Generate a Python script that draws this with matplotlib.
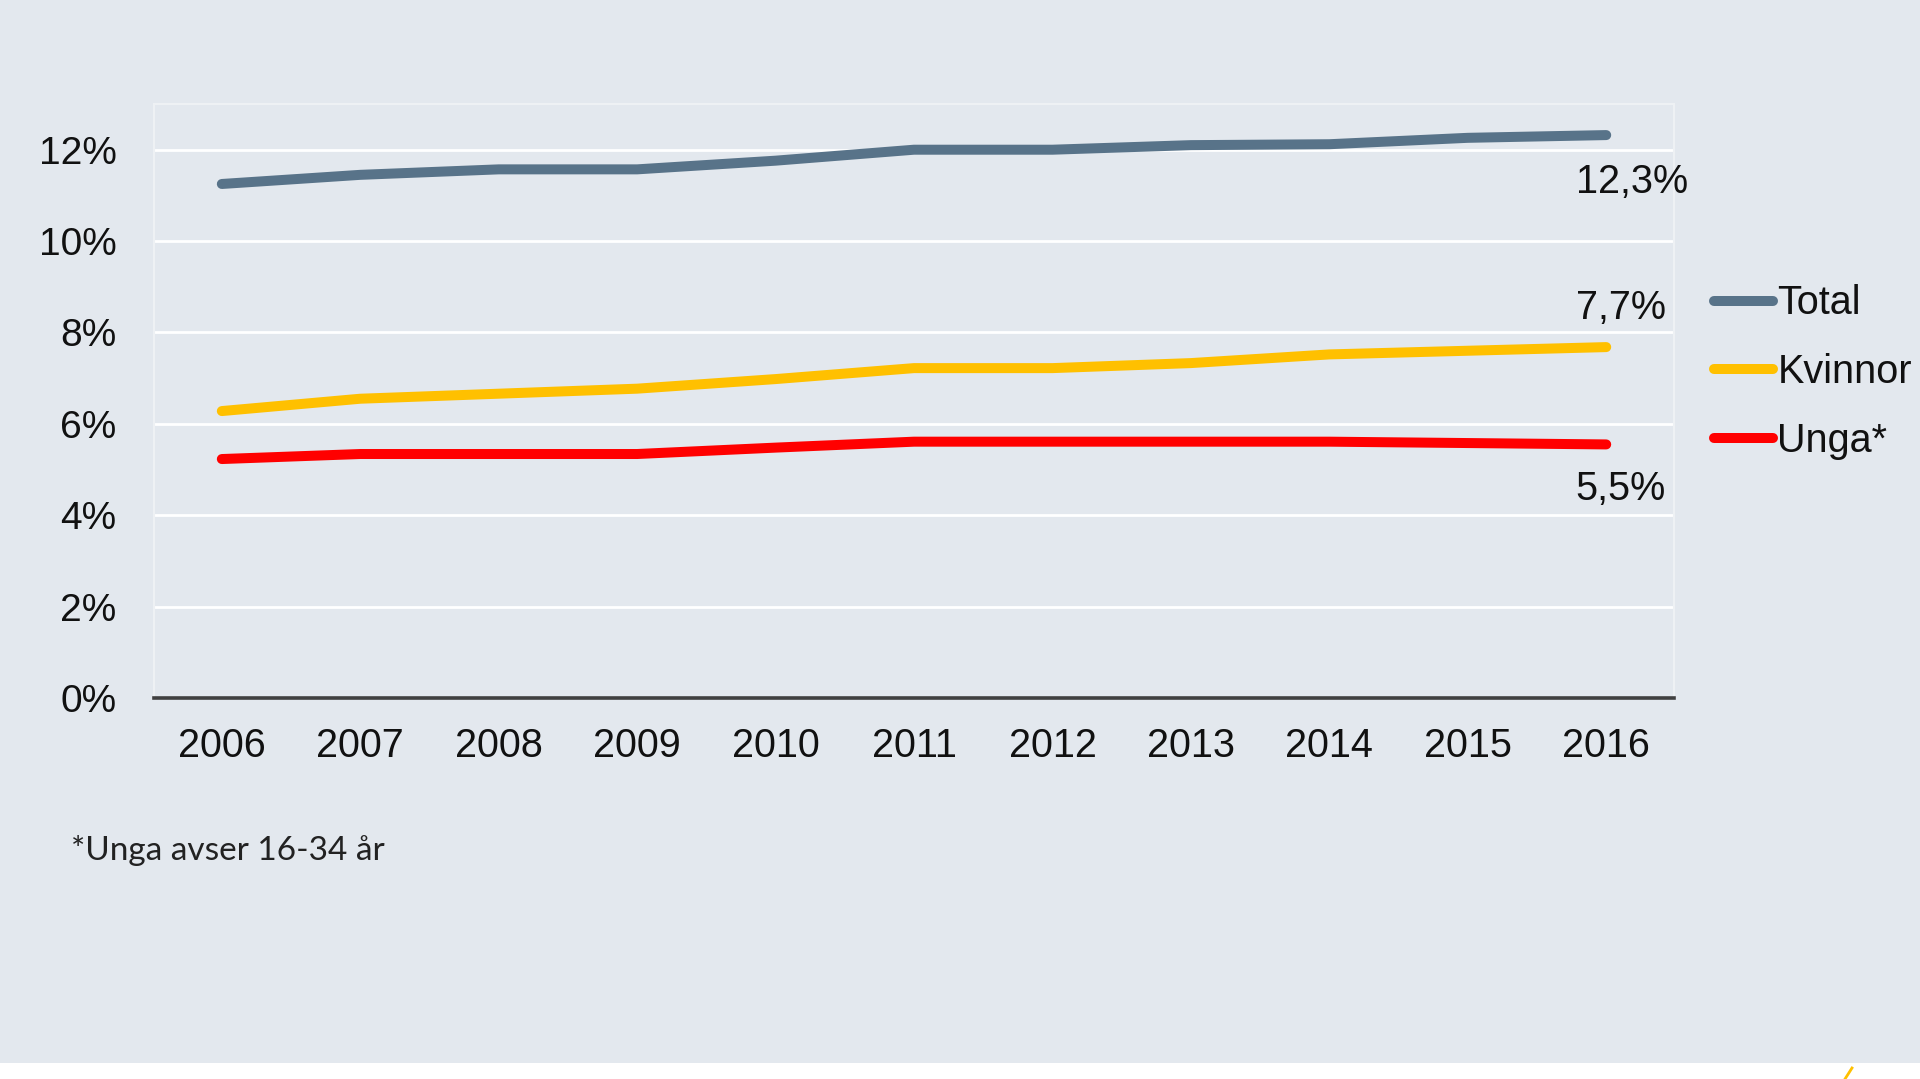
import numpy as np
import matplotlib
matplotlib.use('Agg')
import matplotlib.pyplot as plt
from matplotlib.patches import Rectangle
from matplotlib.lines import Line2D
from matplotlib.ticker import FuncFormatter

plt.rcParams['font.family'] = ['Liberation Sans', 'DejaVu Sans']

#Data
years = [2006, 2007, 2008, 2009, 2010, 2011, 2012, 2013, 2014, 2015, 2016]
total = [11.25, 11.45, 11.57, 11.57, 11.76, 12.0, 12.0, 12.1, 12.12, 12.26, 12.32]
kvinnor = [6.28, 6.55, 6.66, 6.77, 6.98, 7.22, 7.22, 7.33, 7.52, 7.6, 7.68]
unga = [5.23, 5.34, 5.34, 5.34, 5.48, 5.61, 5.61, 5.61, 5.61, 5.58, 5.55]
end_labels = ['12,3%', '7,7%', '5,5%']
end_label_y = [11.30, 8.54, 4.57]
series_names = ['Total', 'Kvinnor', 'Unga*']
colors = ['#587389', '#FFC000', '#FF0000']
footnote = '*Unga avser 16-34 år'

bg = '#E3E8EE'
fig = plt.figure(figsize=(19.2, 10.79), dpi=100, facecolor=bg)
ax = fig.add_axes([0.0802, 0.3531, 0.7917, 0.5505], facecolor=bg)

for vals, name, c in zip([total, kvinnor, unga], series_names, colors):
    ax.plot(years, vals, color=c, lw=7.2, solid_capstyle='round', label=name, zorder=3)

for txt, yv in zip(end_labels, end_label_y):
    ax.text(years[-1] - 0.22, yv, txt, ha='left', va='center', fontsize=28.5, color='#111111', zorder=4)

ax.set_xlim(2005.51, 2016.49)
ax.set_ylim(0, 13)
ax.set_xticks(years)
ax.set_yticks(np.arange(0, 13, 2))
ax.yaxis.set_major_formatter(FuncFormatter(lambda v, p: '%d%%' % v))
ax.tick_params(axis='x', length=0, pad=21, labelsize=28.5, labelcolor='#111111')
ax.tick_params(axis='y', length=0, pad=27, labelsize=28, labelcolor='#111111')
ax.grid(axis='y', color='white', lw=2, zorder=1)
ax.set_axisbelow(True)
for s in ['left', 'top', 'right']:
    ax.spines[s].set_color('#EEF1F4')
    ax.spines[s].set_linewidth(1.5)
ax.spines['bottom'].set_color('#404040')
ax.spines['bottom'].set_linewidth(2.6)
ax.spines['bottom'].set_zorder(5)

leg = ax.legend(loc='center left', bbox_to_anchor=(0.8927, 0.655), bbox_transform=fig.transFigure,
                frameon=False, fontsize=28.5, handlelength=1.5, handletextpad=0.1,
                labelspacing=0.78, borderpad=0, borderaxespad=0)
for t in leg.get_texts():
    t.set_color('#111111')

fig.text(0.037, 1 - 851 / 1079, footnote, ha='left', va='center', fontsize=24,
         family=['Lato', 'DejaVu Sans'], color='#222222')

#white strip at the bottom with small yellow mark
fig.patches.append(Rectangle((0, 0), 1, 16 / 1079, transform=fig.transFigure,
                             facecolor='white', edgecolor='none'))
fig.lines.append(Line2D([1852 / 1920, 1845 / 1920], [11 / 1079, 0], transform=fig.transFigure,
                        color='#FFC000', lw=2))

fig.savefig('out.png', dpi=100, facecolor=bg)
